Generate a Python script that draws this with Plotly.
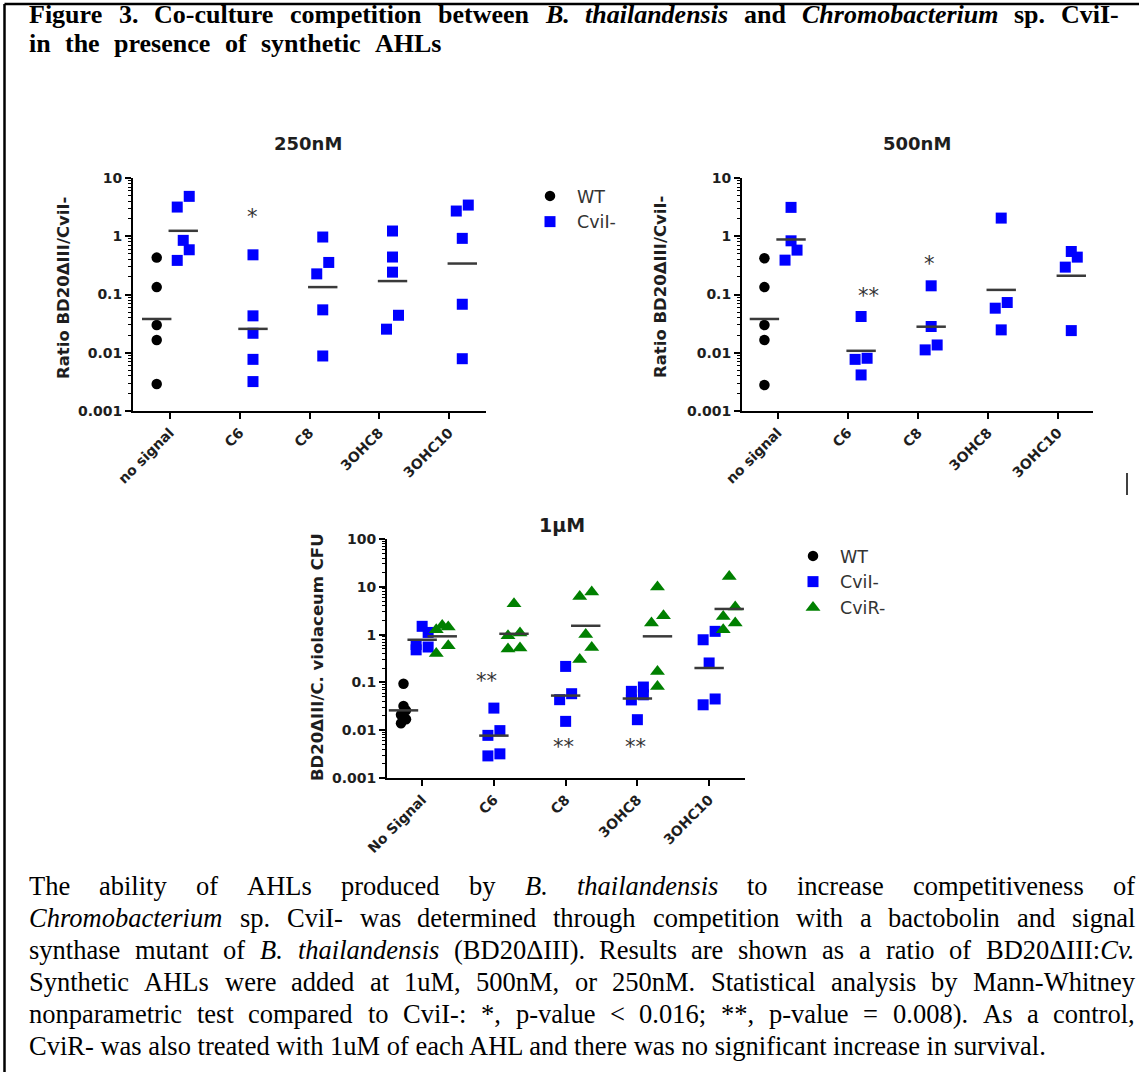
import math
import re
import plotly.graph_objects as go

W, H = 1139, 1072

# ---------------------------------------------------------------- data
cats_nm = ["no signal", "C6", "C8", "3OHC8", "3OHC10"]
cats_um = ["No Signal", "C6", "C8", "3OHC8", "3OHC10"]
yticks_nm = [0.001, 0.01, 0.1, 1, 10]
ylabels_nm = ["0.001", "0.01", "0.1", "1", "10"]
yticks_um = [0.001, 0.01, 0.1, 1, 10, 100]
ylabels_um = ["0.001", "0.01", "0.1", "1", "10", "100"]

# 250 nM  (WT only measured without signal)
wt_250 = [0.43, 0.134, 0.030, 0.0166, 0.0029]
wt_250_mean = 0.038
cvil_250 = [
    [4.84, 3.17, 0.85, 0.586, 0.385],
    [0.48, 0.043, 0.0216, 0.0077, 0.0032],
    [0.97, 0.355, 0.226, 0.0545, 0.0088],
    [1.23, 0.44, 0.242, 0.044, 0.0254],
    [3.43, 2.71, 0.92, 0.068, 0.0079],
]
cvil_250_mean = [1.24, 0.0257, 0.134, 0.17, 0.34]
sig_250 = ["", "*", "", "", ""]
sig_250_y = [None, 2.5, None, None, None]

# 500 nM
wt_500 = [0.42, 0.134, 0.030, 0.0166, 0.0028]
wt_500_mean = 0.038
cvil_500 = [
    [3.13, 0.835, 0.578, 0.389],
    [0.0419, 0.00804, 0.0077, 0.00416],
    [0.141, 0.0282, 0.0136, 0.0112],
    [2.05, 0.0728, 0.0582, 0.0247],
    [0.548, 0.438, 0.295, 0.024],
]
cvil_500_mean = [0.88, 0.0108, 0.028, 0.12, 0.21]
sig_500 = ["", "**", "*", "", ""]
sig_500_y = [None, 0.11, 0.39, None, None]

# 1 uM
wt_1um = [0.094, 0.032, 0.026, 0.021, 0.017, 0.014]
wt_1um_mean = 0.026
cvil_1um = [
    [1.49, 1.11, 0.62, 0.55, 0.48],
    [0.029, 0.0098, 0.0078, 0.0032, 0.0029],
    [0.216, 0.058, 0.0435, 0.0153],
    [0.080, 0.065, 0.055, 0.043, 0.0166],
    [1.17, 0.78, 0.255, 0.045, 0.034],
]
cvil_1um_mean = [0.78, 0.0077, 0.053, 0.046, 0.20]
cvir_1um = [
    [1.55, 1.45, 1.27, 0.586, 0.40],
    [4.43, 1.08, 0.95, 0.525, 0.50],
    [7.8, 6.3, 1.0, 0.54, 0.30],
    [9.9, 2.48, 1.75, 0.17, 0.082],
    [16.5, 3.8, 2.4, 1.74, 1.26],
]
cvir_1um_mean = [0.92, 1.04, 1.53, 0.92, 3.44]
sig_1um = ["", "**", "**", "**", ""]
sig_1um_y = [None, 0.13, 0.0055, 0.0055, None]

header_lines = [
    "Figure 3. Co-culture competition between <i>B.</i> <i>thailandensis</i> and "
    "<i>Chromobacterium</i> sp. CviI-",
    "in the presence of synthetic AHLs",
]
caption_lines = [
    "The ability of AHLs produced by <i>B.</i> <i>thailandensis</i> to increase competitiveness of",
    "<i>Chromobacterium</i> sp. CviI- was determined through competition with a bactobolin and signal",
    "synthase mutant of <i>B.</i> <i>thailandensis</i> (BD20ΔIII). Results are shown as a ratio of BD20ΔIII:<i>Cv.</i>",
    "Synthetic AHLs were added at 1uM, 500nM, or 250nM. Statistical analysis by Mann-Whitney",
    "nonparametric test compared to CviI-: *, p-value &lt; 0.016; **, p-value = 0.008). As a control,",
    "CviR- was also treated with 1uM of each AHL and there was no significant increase in survival.",
]

# ---------------------------------------------------------------- styles
SANS = "DejaVu Sans"
SERIF = "Liberation Serif"
TICKFONT = dict(family=SANS, size=14, color="#1e1e1e", weight="bold")
BLACK = "#000000"
BLUE = "#0000ff"
GREEN = "#008000"
MEAN_COLOR = "#3a3a3a"

panels = {
    "p1": dict(x="x", y="y", xpx=(133, 486), ypx=(178, 411), xr=(-0.53, 4.53), yr=(-3, 1)),
    "p2": dict(x="x2", y="y2", xpx=(742, 1093), ypx=(178, 411), xr=(-0.51, 4.50), yr=(-3, 1)),
    "p3": dict(x="x3", y="y3", xpx=(387, 745), ypx=(539, 778), xr=(-0.49, 4.50), yr=(-3, 2)),
}
for p in panels.values():
    p["ppc"] = (p["xpx"][1] - p["xpx"][0]) / (p["xr"][1] - p["xr"][0])
    p["ppd"] = (p["ypx"][1] - p["ypx"][0]) / (p["yr"][1] - p["yr"][0])


def fx(px):
    return px / W


def fy(py):
    return 1 - py / H


def spread(vals, p, half, thr=14.5):
    """GraphPad-like horizontal spreading of points that crowd vertically."""
    order = sorted(range(len(vals)), key=lambda i: -vals[i])
    offs = [0.0] * len(vals)
    clusters, prev = [], None
    for i in order:
        yv = math.log10(vals[i]) * p["ppd"]
        if prev is not None and prev - yv < thr:
            clusters[-1].append(i)
        else:
            clusters.append([i])
        prev = yv
    for c in clusters:
        n = len(c)
        if n == 1:
            continue
        if n % 2:
            pattern = [0.0] + [half if k % 2 == 0 else -half for k in range(n - 1)]
        else:
            pattern = [half if k % 2 == 0 else -half for k in range(n)]
        for i, o in zip(c, pattern):
            offs[i] = o / p["ppc"]
    return offs


fig = go.Figure()


def add_points(pk, groups, offset, name, marker, half, legend=None):
    p = panels[pk]
    xs, ys = [], []
    for ci, vals in groups:
        offs = spread(vals, p, half)
        xs += [ci + offset + o for o in offs]
        ys += list(vals)
    kw = dict(x=xs, y=ys, mode="markers", marker=marker, name=name,
              xaxis=p["x"], yaxis=p["y"], hoverinfo="skip", showlegend=legend is not None)
    if legend is not None:
        kw["legend"] = legend
    fig.add_trace(go.Scatter(**kw))


def add_means(pk, cis, offset, means):
    p = panels[pk]
    fig.add_trace(go.Scatter(
        x=[ci + offset for ci in cis], y=means, mode="markers",
        marker=dict(symbol="line-ew", size=21, line=dict(width=2.5, color=MEAN_COLOR)),
        xaxis=p["x"], yaxis=p["y"], showlegend=False, hoverinfo="skip"))


M_WT = dict(symbol="circle", size=10.5, color=BLACK)
M_CVIL = dict(symbol="square", size=11, color=BLUE)
M_CVIR = dict(symbol="triangle-up", size=13, color=GREEN)

OFF_NM = {"wt": -0.19, "cvil": 0.19}
OFF_UM = {"wt": -0.26, "cvil": 0.0, "cvir": 0.28}

# 250 nM
add_points("p1", [(0, wt_250)], OFF_NM["wt"], "WT", M_WT, 5.5, legend="legend")
add_points("p1", list(enumerate(cvil_250)), OFF_NM["cvil"], "CviI-", M_CVIL, 6, legend="legend")
add_means("p1", [0], OFF_NM["wt"], [wt_250_mean])
add_means("p1", range(5), OFF_NM["cvil"], cvil_250_mean)
# 500 nM
add_points("p2", [(0, wt_500)], OFF_NM["wt"], "WT", M_WT, 5.5)
add_points("p2", list(enumerate(cvil_500)), OFF_NM["cvil"], "CviI-", M_CVIL, 6)
add_means("p2", [0], OFF_NM["wt"], [wt_500_mean])
add_means("p2", range(5), OFF_NM["cvil"], cvil_500_mean)
# 1 uM
add_points("p3", [(0, wt_1um)], OFF_UM["wt"], "WT", M_WT, 2.5, legend="legend2")
add_points("p3", list(enumerate(cvil_1um)), OFF_UM["cvil"], "CviI-", M_CVIL, 6, legend="legend2")
add_points("p3", list(enumerate(cvir_1um)), OFF_UM["cvir"], "CviR-", M_CVIR, 6, legend="legend2")
add_means("p3", [0], OFF_UM["wt"], [wt_1um_mean])
add_means("p3", range(5), OFF_UM["cvil"], cvil_1um_mean)
add_means("p3", range(5), OFF_UM["cvir"], cvir_1um_mean)


# ---------------------------------------------------------------- axes
def axes(pk, cats, yt, yl):
    p = panels[pk]
    minors = [k * 10.0 ** e for e in range(p["yr"][0], p["yr"][1]) for k in range(2, 10)]
    common = dict(ticks="outside", ticklen=6, tickwidth=2, tickcolor="black",
                  showline=True, linewidth=2, linecolor="black", showgrid=False,
                  zeroline=False, tickfont=TICKFONT, fixedrange=True, automargin=False)
    xa = dict(domain=[fx(p["xpx"][0]), fx(p["xpx"][1])], range=list(p["xr"]),
              anchor=p["y"], tickmode="array", tickvals=list(range(len(cats))),
              ticktext=cats, tickangle=-45, **common)
    ya = dict(domain=[fy(p["ypx"][1]), fy(p["ypx"][0])], type="log", range=list(p["yr"]),
              anchor=p["x"], tickmode="array", tickvals=yt, ticktext=yl,
              minor=dict(tickmode="array", tickvals=minors, ticks="outside", ticklen=3,
                         tickwidth=1, tickcolor="black"), **common)
    return xa, ya


x1, y1 = axes("p1", cats_nm, yticks_nm, ylabels_nm)
x2, y2 = axes("p2", cats_nm, yticks_nm, ylabels_nm)
x3, y3 = axes("p3", cats_um, yticks_um, ylabels_um)

# ---------------------------------------------------------------- text
ann = []


def text(px, py, t, size, family=SANS, weight="normal", color="#1e1e1e", angle=0,
         xanchor="center", yanchor="middle"):
    ann.append(dict(x=fx(px), y=fy(py), xref="paper", yref="paper", text=t, showarrow=False,
                    textangle=angle, xanchor=xanchor, yanchor=yanchor, borderpad=0,
                    font=dict(family=family, size=size, color=color, weight=weight)))


# panel titles
text(308, 143, "250nM", 18, weight="bold")
text(917, 143, "500nM", 18, weight="bold")
text(562, 525, "1µM", 19, weight="bold")
# y axis titles
text(63, 288, "Ratio BD20ΔIII/CviI-", 16.5, weight="bold", angle=-90)
text(660, 287, "Ratio BD20ΔIII/CviI-", 16.5, weight="bold", angle=-90)
text(317, 657, "BD20ΔIII/C. violaceum CFU", 16.5, weight="bold", angle=-90)


# significance stars
def stars(pk, sig, sig_y, offset, dx=None):
    p = panels[pk]
    for ci, (s, v) in enumerate(zip(sig, sig_y)):
        if not s:
            continue
        shift = (dx or {}).get(ci, 0.0)
        ann.append(dict(x=ci + offset + shift, y=math.log10(v), xref=p["x"], yref=p["y"],
                        text=s, showarrow=False, yshift=-4, borderpad=0,
                        font=dict(family=SANS, size=21, color="#333333")))


stars("p1", sig_250, sig_250_y, OFF_NM["cvil"])
stars("p2", sig_500, sig_500_y, OFF_NM["cvil"], {1: 0.1, 2: -0.02})
stars("p3", sig_1um, sig_1um_y, OFF_UM["cvil"], {1: -0.1, 2: -0.03, 3: -0.03})

# ---------------------------------------------------------------- serif text blocks
def afm(upper, lower):
    t = dict(zip("ABCDEFGHIJKLMNOPQRSTUVWXYZ", upper))
    t.update(dict(zip("abcdefghijklmnopqrstuvwxyz", lower)))
    t.update({d: 500 for d in "0123456789"})
    t.update({" ": 250, ".": 250, ",": 250, "-": 333, "(": 333, ")": 333, ":": 278,
              ";": 278, "*": 500, "<": 564, "=": 564, "Δ": 612})
    return t


ROMAN = afm([722, 667, 667, 722, 611, 556, 722, 722, 333, 389, 722, 611, 889, 722, 722,
             556, 722, 667, 556, 611, 722, 722, 944, 722, 722, 611],
            [444, 500, 444, 500, 444, 333, 500, 500, 278, 278, 500, 278, 778, 500, 500,
             500, 500, 333, 389, 278, 500, 500, 722, 500, 500, 444])
ITALIC = afm([611, 611, 667, 722, 611, 611, 722, 722, 333, 444, 667, 556, 833, 667, 722,
              611, 722, 611, 500, 556, 722, 611, 833, 611, 556, 556],
             [500, 500, 444, 500, 444, 278, 500, 500, 278, 278, 444, 278, 722, 500, 500,
              500, 500, 389, 389, 278, 500, 444, 667, 444, 444, 389])
BOLD = afm([722, 667, 722, 722, 667, 611, 778, 778, 389, 500, 778, 667, 944, 722, 778,
            611, 778, 722, 556, 667, 722, 722, 1000, 722, 722, 667],
           [500, 556, 444, 556, 444, 333, 500, 556, 278, 333, 556, 278, 833, 556, 500,
            556, 556, 444, 389, 333, 556, 500, 722, 500, 500, 444])
BOLDITALIC = afm([667, 667, 667, 722, 667, 667, 722, 778, 389, 500, 667, 611, 889, 722, 722,
                  611, 722, 667, 556, 611, 722, 667, 889, 667, 611, 611],
                 [500, 500, 444, 500, 444, 333, 500, 556, 278, 278, 500, 278, 778, 556, 500,
                  500, 500, 389, 389, 278, 556, 444, 667, 500, 444, 389])


def word_width(word, fs, bold=False):
    total, italic = 0, False
    for part in re.split(r"(</?i>)", word):
        if part == "<i>":
            italic = True
        elif part == "</i>":
            italic = False
        else:
            part = part.replace("&lt;", "<")
            if bold:
                table = BOLDITALIC if italic else BOLD
            else:
                table = ITALIC if italic else ROMAN
            total += sum(table.get(ch, 500) for ch in part)
    return total * fs / 1000.0


def spaced_line(line, left, right, yc, fs, bold=False):
    words = line.split(" ")
    widths = [word_width(w, fs, bold) for w in words]
    gap = (right - left - sum(widths)) / (len(words) - 1)
    xcur = left
    for w, wd in zip(words, widths):
        t = "<b>" + w + "</b>" if bold else w
        text(xcur, yc, t, fs, family=SERIF, color="#000000", xanchor="left")
        xcur += wd + gap


# header (the source picture is slightly stretched horizontally)
HEAD_FS = 26
spaced_line(header_lines[0], 28, 1118, 23.5 - 0.34 * HEAD_FS, HEAD_FS, bold=True)
spaced_line(header_lines[1], 28, 440, 52.5 - 0.34 * HEAD_FS, HEAD_FS, bold=True)

# caption (justified like the source document)
CAP_FS = 26.5
CAP_LEFT, CAP_RIGHT = 28, 1134
for li, line in enumerate(caption_lines):
    base = 895 + 32 * li
    yc = base - 0.34 * CAP_FS
    if li == len(caption_lines) - 1:
        text(CAP_LEFT, yc, line, CAP_FS, family=SERIF, color="#000000", xanchor="left")
    else:
        spaced_line(line, CAP_LEFT, CAP_RIGHT, yc, CAP_FS)

# frame lines and stray mark
shapes = [
    dict(type="line", xref="paper", yref="paper", x0=fx(4.5), x1=1, y0=fy(4), y1=fy(4),
         line=dict(color="black", width=2.5)),
    dict(type="line", xref="paper", yref="paper", x0=fx(4.5), x1=fx(4.5), y0=fy(4), y1=0,
         line=dict(color="black", width=2.5)),
    dict(type="line", xref="paper", yref="paper", x0=fx(1127), x1=fx(1127), y0=fy(473),
         y1=fy(495), line=dict(color="black", width=1.5)),
]

LEGEND_FONT = dict(family=SANS, size=17.5, color="#333333")
fig.update_layout(
    width=W, height=H, margin=dict(l=0, r=0, t=0, b=0, autoexpand=False),
    paper_bgcolor="white", plot_bgcolor="white",
    xaxis=x1, yaxis=y1, xaxis2=x2, yaxis2=y2, xaxis3=x3, yaxis3=y3,
    annotations=ann, shapes=shapes,
    legend=dict(x=fx(523), y=fy(178), xanchor="left", yanchor="top", font=LEGEND_FONT,
                bgcolor="rgba(0,0,0,0)", itemwidth=44, tracegroupgap=0),
    legend2=dict(x=fx(786), y=fy(538), xanchor="left", yanchor="top", font=LEGEND_FONT,
                 bgcolor="rgba(0,0,0,0)", itemwidth=44, tracegroupgap=0),
    hovermode=False,
)

fig.write_html("out.html", config={"displayModeBar": False},
               post_script="document.body.style.margin='0';document.body.style.overflow='hidden';")
